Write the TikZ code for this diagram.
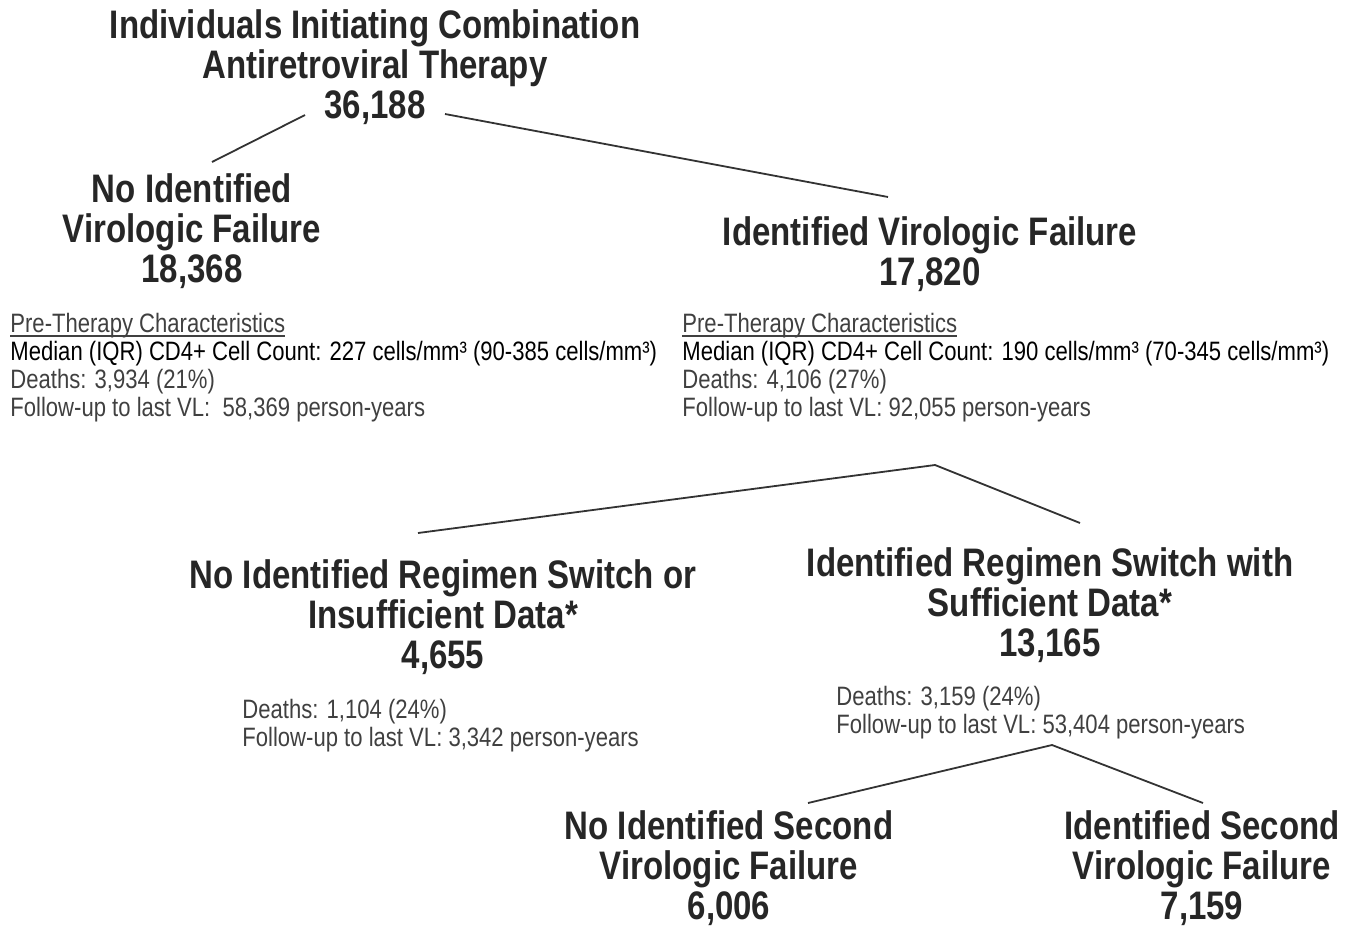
\documentclass[tikz,border=0pt]{standalone}
\usepackage{fontspec}
\setmainfont{Liberation Sans}[FakeStretch=0.83]
\newcommand\lowul[1]{\setbox0\hbox{#1}\rlap{\rule[-2pt]{\wd0}{0.6pt}}\box0}
\begin{document}
\begin{tikzpicture}[x=0.5pt,y=-0.5pt,
    every node/.style={inner sep=0pt},
    head/.style={align=center, text=black!85,
      font=\fontsize{19.9}{20}\selectfont\bfseries},
    info/.style={align=left, anchor=north west, text=black!75,
      font=\fontsize{13.3}{14}\selectfont},
    link/.style={line width=0.9pt, black!80}]
  \useasboundingbox (0,0) rectangle (1358,927);

  % headings
  \node[head] (start) at (375,67) {Individuals Initiating Combination\\Antiretroviral Therapy\\36,188};
  \node[head] (novf) at (192,231) {No Identified\\Virologic Failure\\18,368};
  \node[head] (vf) at (930,254) {Identified Virologic Failure\\17,820};
  \node[head] (noswitch) at (443,617) {No Identified Regimen Switch or\\Insufficient Data*\\4,655};
  \node[head] (switch) at (1050,605) {Identified Regimen Switch with\\Sufficient Data*\\13,165};
  \node[head] (nosecond) at (729,868) {No Identified Second\\Virologic Failure\\6,006};
  \node[head] (second) at (1202,868) {Identified Second\\Virologic Failure\\7,159};

  % characteristics
  \node[info] (novf-info) at (10,313) {\lowul{Pre-Therapy Characteristics}\\
    \textcolor{black}{Median (IQR) CD4+ Cell Count: 227 cells/mm³ (90-385 cells/mm³)}\\
    Deaths: 3,934 (21\%)\\Follow-up to last VL:\ \ 58,369 person-years};
  \node[info] (vf-info) at (682,313) {\lowul{Pre-Therapy Characteristics}\\
    \textcolor{black}{Median (IQR) CD4+ Cell Count: 190 cells/mm³ (70-345 cells/mm³)}\\
    Deaths: 4,106 (27\%)\\Follow-up to last VL: 92,055 person-years};
  \node[info] (noswitch-info) at (242,699) {Deaths: 1,104 (24\%)\\Follow-up to last VL: 3,342 person-years};
  \node[info] (switch-info) at (836,686) {Deaths: 3,159 (24\%)\\Follow-up to last VL: 53,404 person-years};

  % line ends
  \coordinate (start-l) at (305,115);
  \coordinate (start-r) at (445,114);
  \coordinate (novf-top) at (212,162);
  \coordinate (vf-top) at (888,197);
  \coordinate (vf-info-bot) at (935,465);
  \coordinate (noswitch-top) at (418,533);
  \coordinate (switch-top) at (1080,523);
  \coordinate (switch-info-bot) at (1052,745);
  \coordinate (nosecond-top) at (808,803);
  \coordinate (second-top) at (1203,803);

  \draw[link] (start-l) -- (novf-top);
  \draw[link] (start-r) -- (vf-top);
  \draw[link] (noswitch-top) -- (vf-info-bot) -- (switch-top);
  \draw[link] (nosecond-top) -- (switch-info-bot) -- (second-top);
\end{tikzpicture}
\end{document}
